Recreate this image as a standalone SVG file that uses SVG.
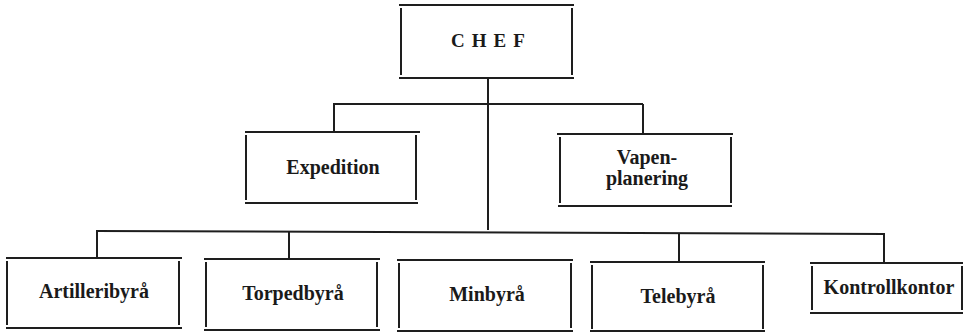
<svg xmlns="http://www.w3.org/2000/svg" width="969" height="333" viewBox="0 0 969 333">
<style>
.ln{stroke:#1e1e1e;stroke-width:2;fill:none;stroke-linecap:butt}
.t{font-family:"Liberation Serif","Times New Roman",serif;font-size:20px;font-weight:bold;fill:#1a1a1a;text-anchor:middle}
.c{font-family:"Liberation Serif","Times New Roman",serif;font-size:19px;font-weight:bold;fill:#1a1a1a;text-anchor:middle;letter-spacing:7px}
</style>
<rect width="969" height="333" fill="#ffffff"/>
<g id="connectors" class="ln">
<path d="M488 78 V230"/>
<path d="M333 104 H643"/>
<path d="M334 104 V132"/>
<path d="M643 104 V134"/>
<path d="M96 231 L885 234"/>
<path d="M97 231 V258"/>
<path d="M289 232 V259"/>
<path d="M679 233 V262"/>
<path d="M884 234 V263"/>
</g>
<g id="chef" class="ln">
<path d="M399 5 H574 M399 78 H574 M401 8 V75 M572 8 V75"/>
<text class="c" x="491.5" y="47" stroke="none">CHEF</text>
</g>
<g id="expedition" class="ln">
<path d="M245 132 H420 M245 203 H418 M246 135 V200 M416 135 V200"/>
<text class="t" x="333" y="174" stroke="none">Expedition</text>
</g>
<g id="vapenplanering" class="ln">
<path d="M557 134 H733 M558 206 H732 M560 137 V203 M731 137 V203"/>
<text class="t" x="647" y="164" stroke="none">Vapen-</text>
<text class="t" x="647" y="185" stroke="none">planering</text>
</g>
<g id="artilleribyra" class="ln">
<path d="M6 258 H182 M6 328 H182 M7 261 V325 M179 261 V325"/>
<text class="t" x="94" y="298" stroke="none">Artilleribyrå</text>
</g>
<g id="torpedbyra" class="ln">
<path d="M204 259 H380 M204 330 H380 M206 262 V327 M377 262 V327"/>
<text class="t" x="293" y="300" stroke="none">Torpedbyrå</text>
</g>
<g id="minbyra" class="ln">
<path d="M397 260 H573 M397 331 H573 M399 263 V328 M571 263 V328"/>
<text class="t" x="487" y="301" stroke="none">Minbyrå</text>
</g>
<g id="telebyra" class="ln">
<path d="M590 262 H765 M590 331 H765 M592 265 V329 M763 265 V329"/>
<text class="t" x="678" y="303" stroke="none">Telebyrå</text>
</g>
<g id="kontrollkontor" class="ln">
<path d="M810 263 H963 M810 313 H963 M812 266 V310 M962 266 V310"/>
<text class="t" x="889" y="294" stroke="none">Kontrollkontor</text>
</g>
</svg>
